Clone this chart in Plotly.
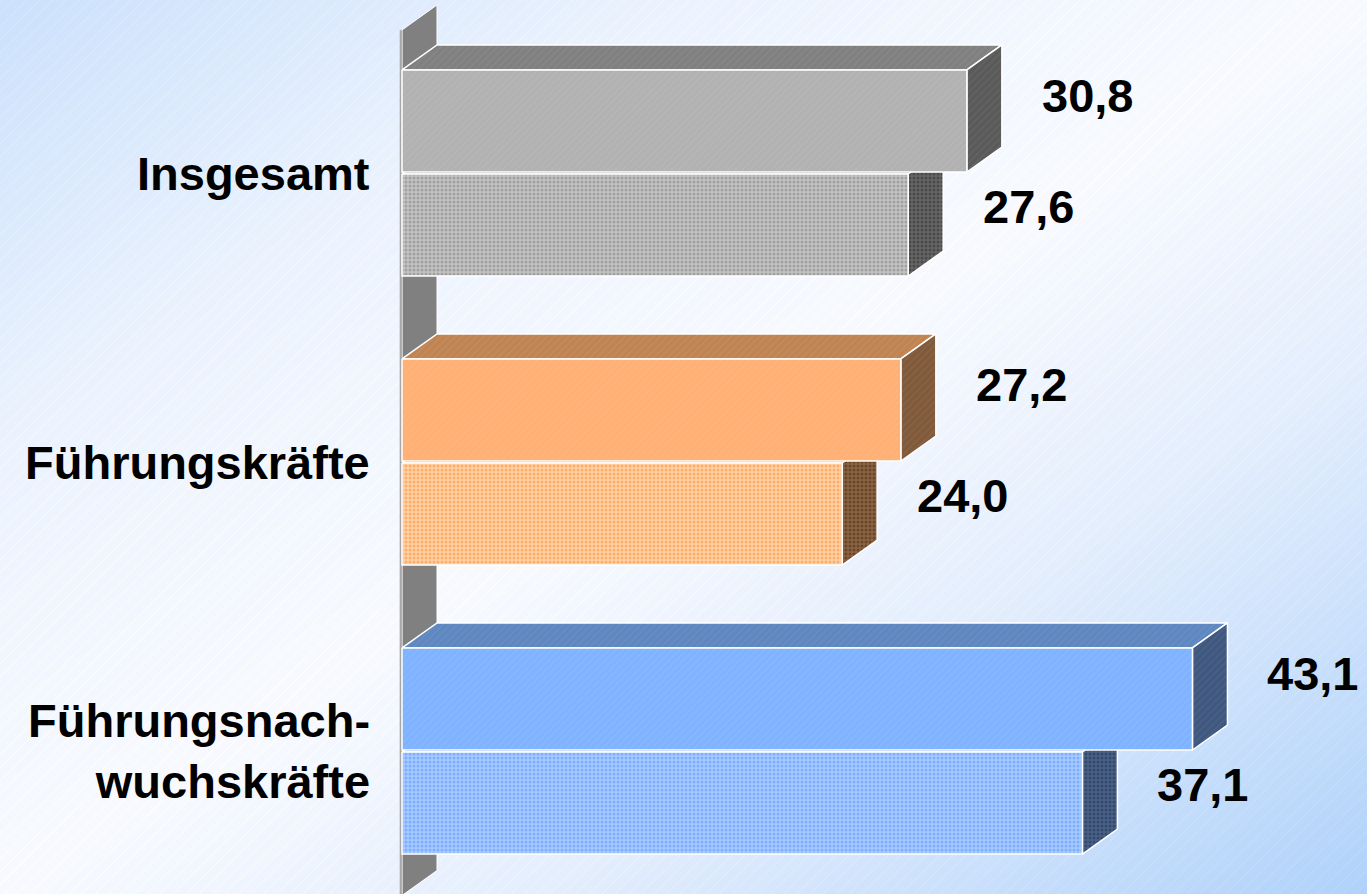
import base64
import struct
import zlib

import numpy as np
import plotly.graph_objects as go

# ---------------- data ----------------
categories = ["Insgesamt", "Führungskräfte", "Führungsnach-<br>wuchskräfte"]
values_a = [30.8, 27.2, 43.1]   # upper bar of each group
values_b = [27.6, 24.0, 37.1]   # lower (dotted) bar of each group

# ---------------- styles ----------------
front_a = ["#b2b2b2", "#ffb074", "#80b3ff"]
top_a = ["#808080", "#c08452", "#5f87c0"]
side_a = ["#5a5a5a", "#805a3a", "#40587f"]
front_b_bg = ["#c4c4c4", "#ffd2a6", "#a6cbff"]
front_b_dot = ["#a0a0a0", "#ffac68", "#80aeff"]
side_b_bg = ["#666666", "#8a6444", "#4a6288"]
side_b_dot = ["#4a4a4a", "#6a4628", "#34486c"]
wall_color = "#808080"

W, H = 1367, 894
PX_X = 18.34          # pixels per value unit
PX_Y = 289.0          # pixels per category step
X0_PX = 402           # pixel of value 0
Y0_PX = 173           # pixel of first category centre
DX = 35 / PX_X        # 3D depth offset (value units)
DY = 25 / PX_Y        # 3D depth offset (category units)
BAR_H = 0.353
OFF = 0.18
FONT = "Arial, 'Liberation Sans', sans-serif"


# ---------------- background gradient image ----------------
def make_png(arr):
    h, w, _ = arr.shape
    a = arr.astype(np.int16)
    sub = a.copy()
    sub[:, 1:, :] = a[:, 1:, :] - a[:, :-1, :]
    sub = (sub % 256).astype(np.uint8).reshape(h, w * 3)
    raw = np.hstack([np.ones((h, 1), np.uint8), sub]).tobytes()

    def chunk(tag, data):
        c = struct.pack(">I", len(data)) + tag + data
        return c + struct.pack(">I", zlib.crc32(tag + data) & 0xFFFFFFFF)

    ihdr = struct.pack(">IIBBBBB", w, h, 8, 2, 0, 0, 0)
    return (b"\x89PNG\r\n\x1a\n" + chunk(b"IHDR", ihdr)
            + chunk(b"IDAT", zlib.compress(raw, 9)) + chunk(b"IEND", b""))


yy, xx = np.mgrid[0:H, 0:W].astype(float)
t = (xx / W + yy / H) / 2
stops_t = [0, 0.25, 0.5, 0.7, 1.0]
stops_c = [(204, 225, 252), (236, 243, 254), (248, 250, 255), (228, 238, 253), (176, 210, 250)]
img = np.zeros((H, W, 3))
for c in range(3):
    img[..., c] = np.interp(t, stops_t, [s[c] for s in stops_c])
stripe = ((xx + yy) % 13) < 1
img[stripe] += 7
img = np.clip(img, 0, 255).astype(np.uint8)
bg_src = "data:image/png;base64," + base64.b64encode(make_png(img)).decode()

fig = go.Figure()


def face(xs, ys, color, pattern=None, lw=1.5, lc="white"):
    kw = dict(
        x=list(xs) + [xs[0]], y=list(ys) + [ys[0]],
        mode="lines", fill="toself", fillcolor=color,
        line=dict(color=lc, width=lw), hoverinfo="skip", showlegend=False,
    )
    if pattern is not None:
        kw["fillpattern"] = pattern
    fig.add_trace(go.Scatter(**kw))


def dots(bg, fg):
    return dict(shape=".", bgcolor=bg, fgcolor=fg, size=4, solidity=0.45, fillmode="replace")


def hatch(bg):
    return dict(shape="/", bgcolor=bg, fgcolor="white", fgopacity=0.08, size=5, solidity=0.2,
                fillmode="replace")


def bar3d(v, top, bottom, fcol, tcol, scol, fpat=None, spat=None, tpat=None):
    # top face
    face([0, DX, v + DX, v], [top, top - DY, top - DY, top], tcol, tpat)
    # side face
    face([v, v + DX, v + DX, v], [top, top - DY, bottom - DY, bottom], scol, spat)
    # front face
    face([0, v, v, 0], [top, top, bottom, bottom], fcol, fpat)


# ---------------- wall ----------------
n = len(categories)
wall_top = -0.495
wall_bottom = n - 0.5
face([0, DX, DX, 0], [wall_top, wall_top - DY, wall_bottom - DY, wall_bottom], wall_color, lw=1)
face([-0.12, 0, 0, -0.12], [wall_top, wall_top, wall_bottom, wall_bottom], "#999999", lw=0.8,
     lc="#d8d8d8")

# ---------------- bars ----------------
annotations = []
for g in range(n):
    va, vb = values_a[g], values_b[g]
    b_top, b_bot = g + OFF - BAR_H / 2, g + OFF + BAR_H / 2
    a_top, a_bot = g - OFF - BAR_H / 2, g - OFF + BAR_H / 2
    bar3d(vb, b_top, b_bot, front_b_bg[g], top_a[g], side_b_bg[g],
          fpat=dots(front_b_bg[g], front_b_dot[g]), spat=dots(side_b_bg[g], side_b_dot[g]))
    bar3d(va, a_top, a_bot, front_a[g], top_a[g], side_a[g],
          fpat=hatch(front_a[g]), spat=hatch(side_a[g]), tpat=hatch(top_a[g]))

    for v, yc in ((va, g - OFF - DY), (vb, g + OFF - 0.75 * DY)):
        annotations.append(dict(
            x=v + DX + 2.07, y=yc, xref="x", yref="y", xanchor="left", yanchor="middle",
            text="<b>" + f"{v:.1f}".replace(".", ",") + "</b>", showarrow=False,
            font=dict(family=FONT, size=47, color="black"),
        ))
    annotations.append(dict(
        x=-1.62, y=g, xref="x", yref="y", xanchor="right", yanchor="middle", align="right",
        text="<b>" + categories[g] + "</b>", showarrow=False,
        font=dict(family=FONT, size=47, color="black"),
    ))

fig.update_layout(
    width=W, height=H,
    margin=dict(l=0, r=0, t=0, b=0),
    paper_bgcolor="white", plot_bgcolor="rgba(0,0,0,0)",
    xaxis=dict(range=[-X0_PX / PX_X, (W - X0_PX) / PX_X], visible=False, fixedrange=True),
    yaxis=dict(range=[(H - Y0_PX) / PX_Y, -Y0_PX / PX_Y], visible=False, fixedrange=True),
    images=[dict(source=bg_src, xref="paper", yref="paper", x=0, y=1, sizex=1, sizey=1,
                 xanchor="left", yanchor="top", sizing="stretch", layer="below")],
    annotations=annotations,
    showlegend=False,
)

fig.write_html("out.html", config={"displayModeBar": False})
